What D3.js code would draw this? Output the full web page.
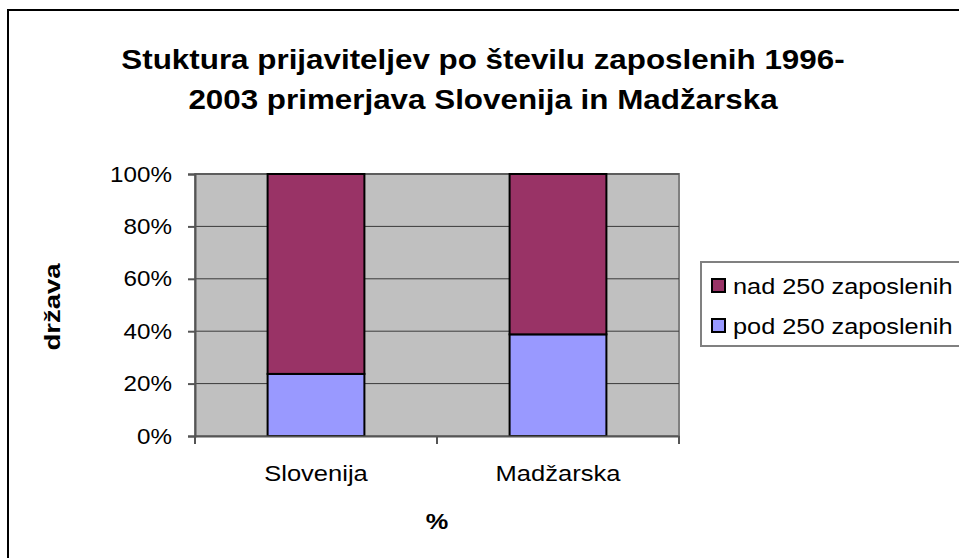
<!DOCTYPE html>
<html>
<head>
<meta charset="utf-8">
<script src="https://cdn.jsdelivr.net/npm/d3@7"></script>
<style>
  body { margin: 0; background: #fff; }
  svg text { font-family: "Liberation Sans", Arial, sans-serif; fill: #000; }
</style>
</head>
<body>
<div class="chart"></div>
<script>
const countries = ['Slovenija', 'Madžarska'];
const seriesNames = ['pod 250 zaposlenih', 'nad 250 zaposlenih'];
const podValues = [23.7, 38.8];
const nadValues = [76.3, 61.2];
const yTicks = [0, 20, 40, 60, 80, 100];
const seriesColors = ['#9999ff', '#993366'];
const titleLines = [
  'Stuktura prijaviteljev po številu zaposlenih 1996-',
  '2003 primerjava Slovenija in Madžarska',
];

const width = 959;
const height = 558;
const plot = { left: 195, right: 679, top: 174, bottom: 436 };

// the original picture is a little wider than tall, so text is stretched
const stretch = (sel, factor) => {
  sel.each(function () {
    const len = this.getComputedTextLength();
    d3.select(this)
      .attr('textLength', len * factor)
      .attr('lengthAdjust', 'spacingAndGlyphs');
  });
};

const svg = d3
  .select('div.chart')
  .append('svg')
  .attr('width', width)
  .attr('height', height);

// outer chart frame (runs off the right and bottom edge)
svg
  .append('rect')
  .attr('x', 8)
  .attr('y', 10)
  .attr('width', 1000)
  .attr('height', 600)
  .attr('fill', '#fff')
  .attr('stroke', '#000')
  .attr('stroke-width', 2);

svg
  .selectAll('text.title')
  .data(titleLines)
  .enter()
  .append('text')
  .attr('class', 'title')
  .attr('x', 483)
  .attr('y', (d, i) => 69 + i * 40)
  .attr('text-anchor', 'middle')
  .attr('font-size', 28)
  .attr('font-weight', 'bold')
  .text((d) => d)
  .call(stretch, 1.12);

const x = d3
  .scaleBand()
  .domain(countries)
  .range([plot.left, plot.right])
  .paddingInner(0.6)
  .paddingOuter(0.3);

const y = d3.scaleLinear().domain([0, 100]).range([plot.bottom, plot.top]);

svg
  .append('rect')
  .attr('x', plot.left)
  .attr('y', plot.top)
  .attr('width', plot.right - plot.left)
  .attr('height', plot.bottom - plot.top)
  .attr('fill', '#c0c0c0')
  .attr('stroke', '#808080')
  .attr('stroke-width', 2);

// gridlines
svg
  .selectAll('line.grid')
  .data(yTicks.slice(1))
  .enter()
  .append('line')
  .attr('class', 'grid')
  .attr('x1', plot.left)
  .attr('x2', plot.right)
  .attr('y1', (d) => y(d))
  .attr('y2', (d) => y(d))
  .attr('stroke', '#3a3a3a')
  .attr('stroke-width', 1);

const stacked = d3.stack().keys([0, 1])(
  countries.map((c, i) => ({ 0: podValues[i], 1: nadValues[i] }))
);

stacked.forEach((layer, k) => {
  svg
    .selectAll('rect.s' + k)
    .data(layer)
    .enter()
    .append('rect')
    .attr('class', 's' + k)
    .attr('x', (d, i) => x(countries[i]))
    .attr('width', x.bandwidth())
    .attr('y', (d) => y(d[1]))
    .attr('height', (d) => y(d[0]) - y(d[1]))
    .attr('fill', seriesColors[k])
    .attr('stroke', '#000')
    .attr('stroke-width', 2);
});

// y axis
const yAxis = svg
  .append('g')
  .attr('transform', `translate(${plot.left},0)`)
  .call(
    d3
      .axisLeft(y)
      .tickValues(yTicks)
      .tickSize(7)
      .tickPadding(16)
      .tickFormat((d) => d + '%')
  );
yAxis.select('.domain').attr('stroke', '#555').attr('stroke-width', 2);
yAxis.selectAll('.tick line').attr('stroke', '#555').attr('stroke-width', 2);
yAxis
  .selectAll('.tick text')
  .attr('font-size', 22)
  .attr('fill', '#000')
  .call(stretch, 1.1);

// x axis with ticks between categories
const xAxis = svg
  .append('g')
  .attr('transform', `translate(0,${plot.bottom})`)
  .call(d3.axisBottom(x).tickSize(0).tickPadding(29));
xAxis.select('.domain').attr('stroke', '#555').attr('stroke-width', 2);
xAxis
  .selectAll('.tick text')
  .attr('font-size', 22)
  .attr('fill', '#000')
  .call(stretch, 1.16);

const boundaries = [plot.left, (x('Slovenija') + x('Madžarska') + x.bandwidth()) / 2, plot.right];
xAxis
  .selectAll('line.sep')
  .data(boundaries)
  .enter()
  .append('line')
  .attr('class', 'sep')
  .attr('x1', (d) => d)
  .attr('x2', (d) => d)
  .attr('y1', 0)
  .attr('y2', 8)
  .attr('stroke', '#555')
  .attr('stroke-width', 2);

// axis titles
svg
  .append('text')
  .attr('x', 437)
  .attr('y', 529)
  .attr('text-anchor', 'middle')
  .attr('font-size', 22)
  .attr('font-weight', 'bold')
  .text('%')
  .call(stretch, 1.15);

svg
  .append('text')
  .attr('transform', 'translate(60,307) rotate(-90)')
  .attr('text-anchor', 'middle')
  .attr('font-size', 22)
  .attr('font-weight', 'bold')
  .text('država')
  .call(stretch, 1.25);

// legend
const legend = svg.append('g').attr('transform', 'translate(701,262)');
legend
  .append('rect')
  .attr('width', 300)
  .attr('height', 84)
  .attr('fill', '#fff')
  .attr('stroke', '#808080')
  .attr('stroke-width', 2);

const legendItems = legend
  .selectAll('g.item')
  .data([1, 0])
  .enter()
  .append('g')
  .attr('class', 'item')
  .attr('transform', (d, i) => `translate(0,${24 + i * 40})`);

legendItems
  .append('rect')
  .attr('x', 11)
  .attr('y', -7)
  .attr('width', 13)
  .attr('height', 13)
  .attr('fill', (d) => seriesColors[d])
  .attr('stroke', '#000')
  .attr('stroke-width', 2);

legendItems
  .append('text')
  .attr('x', 32)
  .attr('y', 8)
  .attr('font-size', 22)
  .text((d) => seriesNames[d])
  .call(stretch, 1.15);
</script>
</body>
</html>
